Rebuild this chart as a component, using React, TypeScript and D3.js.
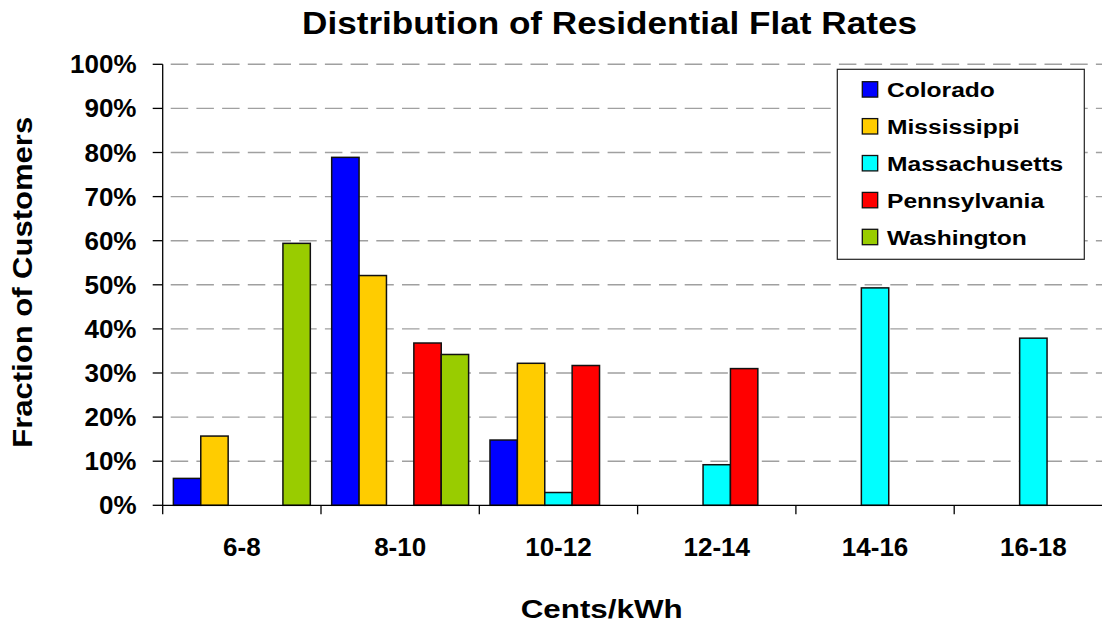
import React from "react";
import * as d3 from "d3";

const categories = ["6-8", "8-10", "10-12", "12-14", "14-16", "16-18"];
const seriesNames = ["Colorado", "Mississippi", "Massachusetts", "Pennsylvania", "Washington"];
const seriesColors = ["#0000FF", "#FFCC00", "#00FFFF", "#FF0000", "#99CC00"];
const colorado = [6.1, 78.9, 14.8, null, null, null];
const mississippi = [15.7, 52.1, 32.2, null, null, null];
const massachusetts = [null, null, 2.9, 9.2, 49.3, 37.9];
const pennsylvania = [null, 36.8, 31.7, 31.0, null, null];
const washington = [59.4, 34.2, null, null, null, null];
const yTicks = [0, 10, 20, 30, 40, 50, 60, 70, 80, 90, 100];

const seriesValues: (number | null)[][] = [colorado, mississippi, massachusetts, pennsylvania, washington];

const W = 1102;
const H = 625;
const left = 162.7;
const right = 1112.5;
const top = 64.3;
const bottom = 505.3;
const FONT = "'Liberation Sans', Arial, sans-serif";

export default function App() {
  const x = d3.scaleBand<string>().domain(categories).range([left, right]).padding(0);
  const inner = d3
    .scaleBand<string>()
    .domain(seriesNames)
    .range([0, x.bandwidth()])
    .paddingInner(0)
    .paddingOuter(0.39);
  const y = d3.scaleLinear().domain([0, 100]).range([bottom, top]);

  const tickEdges = categories.map((c) => x(c)!).concat([right]);

  return (
    <svg
      width={W}
      height={H}
      style={{ position: "absolute", left: 0, top: 0, background: "#fff" }}
      fontFamily={FONT}
    >
      <rect x={0} y={0} width={W} height={H} fill="#fff" />
      {/* gridlines */}
      {yTicks
        .filter((t) => t > 0)
        .map((t) => (
          <line
            key={"g" + t}
            x1={left}
            x2={W}
            y1={y(t)}
            y2={y(t)}
            stroke="#a0a0a0"
            strokeWidth={1.4}
            strokeDasharray="17.5 8.2"
            strokeDashoffset={-8}
          />
        ))}
      {/* bars */}
      {seriesValues.map((vals, si) =>
        vals.map((v, ci) =>
          v == null ? null : (
            <rect
              key={si + "-" + ci}
              x={x(categories[ci])! + inner(seriesNames[si])!}
              y={y(v)}
              width={inner.bandwidth()}
              height={y(0) - y(v)}
              fill={seriesColors[si]}
              stroke="#111"
              strokeWidth={1.5}
            />
          )
        )
      )}
      {/* y axis */}
      <line x1={left} x2={left} y1={top} y2={bottom} stroke="#000" strokeWidth={1.3} />
      {yTicks.map((t) => (
        <g key={"yt" + t}>
          <line x1={left - 10} x2={left} y1={y(t)} y2={y(t)} stroke="#000" strokeWidth={1.3} />
          <text
            x={136.5}
            y={y(t) + 9}
            textAnchor="end"
            fontSize={26}
            fontWeight="bold"
            fill="#000"
          >
            {t + "%"}
          </text>
        </g>
      ))}
      {/* x axis */}
      <line x1={left} x2={W} y1={bottom} y2={bottom} stroke="#000" strokeWidth={1.3} />
      {tickEdges.map((e, i) => (
        <line key={"xt" + i} x1={e} x2={e} y1={bottom} y2={bottom + 9} stroke="#000" strokeWidth={1.3} />
      ))}
      {categories.map((c) => (
        <text
          key={"xl" + c}
          x={x(c)! + x.bandwidth() / 2}
          y={556}
          textAnchor="middle"
          fontSize={26}
          fontWeight="bold"
          fill="#000"
        >
          {c}
        </text>
      ))}
      {/* title */}
      <text
        x={609.5}
        y={34.3}
        textAnchor="middle"
        fontSize={32}
        fontWeight="bold"
        textLength={615}
        lengthAdjust="spacingAndGlyphs"
      >
        Distribution of Residential Flat Rates
      </text>
      {/* x title */}
      <text
        x={601.7}
        y={618.3}
        textAnchor="middle"
        fontSize={26.5}
        fontWeight="bold"
        textLength={162}
        lengthAdjust="spacingAndGlyphs"
      >
        Cents/kWh
      </text>
      {/* y title */}
      <text
        transform="translate(31.5,282.3) rotate(-90)"
        textAnchor="middle"
        fontSize={28}
        fontWeight="bold"
        textLength={331}
        lengthAdjust="spacingAndGlyphs"
      >
        Fraction of Customers
      </text>
      {/* legend */}
      <rect x={837.3} y={69.3} width={247} height={190} fill="#fff" stroke="#222" strokeWidth={1.2} />
      {seriesNames.map((n, i) => {
        const cy = 89.5 + i * 36.9;
        return (
          <g key={"lg" + n}>
            <rect
              x={862.3}
              y={cy - 7.8}
              width={15.4}
              height={15.4}
              fill={seriesColors[i]}
              stroke="#111"
              strokeWidth={1.3}
            />
            <text
              transform={`translate(887,${cy + 7.4}) scale(1.2,1)`}
              fontSize={20.5}
              fontWeight="bold"
              fill="#000"
            >
              {n}
            </text>
          </g>
        );
      })}
    </svg>
  );
}
